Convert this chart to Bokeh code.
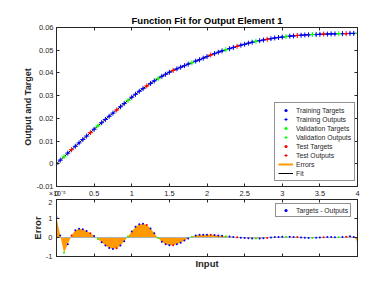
from bokeh.plotting import figure
from bokeh.layouts import column
from bokeh.models import (FixedTicker, LinearAxis, Range1d, Legend, LegendItem,
                          CustomJSTickFormatter)
from bokeh.embed import file_html
from bokeh.resources import INLINE

# ---------------- data ----------------
inputs = [0.00, 0.05, 0.10, 0.15, 0.20, 0.25, 0.30, 0.35, 0.40, 0.45,
          0.50, 0.55, 0.60, 0.65, 0.70, 0.75, 0.80, 0.85, 0.90, 0.95,
          1.00, 1.05, 1.10, 1.15, 1.20, 1.25, 1.30, 1.35, 1.40, 1.45,
          1.50, 1.55, 1.60, 1.65, 1.70, 1.75, 1.80, 1.85, 1.90, 1.95,
          2.00, 2.05, 2.10, 2.15, 2.20, 2.25, 2.30, 2.35, 2.40, 2.45,
          2.50, 2.55, 2.60, 2.65, 2.70, 2.75, 2.80, 2.85, 2.90, 2.95,
          3.00, 3.05, 3.10, 3.15, 3.20, 3.25, 3.30, 3.35, 3.40, 3.45,
          3.50, 3.55, 3.60, 3.65, 3.70, 3.75, 3.80, 3.85, 3.90, 3.95,
          4.00]

targets = [0.0000, 0.0016, 0.0031, 0.0047, 0.0062, 0.0077, 0.0092, 0.0107, 0.0122, 0.0137,
           0.0152, 0.0167, 0.0181, 0.0195, 0.0209, 0.0223, 0.0237, 0.0251, 0.0265, 0.0279,
           0.0293, 0.0306, 0.0319, 0.0331, 0.0343, 0.0354, 0.0365, 0.0375, 0.0385, 0.0394,
           0.0403, 0.0411, 0.0418, 0.0425, 0.0432, 0.0439, 0.0445, 0.0452, 0.0458, 0.0465,
           0.0472, 0.0479, 0.0485, 0.0491, 0.0497, 0.0502, 0.0507, 0.0512, 0.0517, 0.0522,
           0.0526, 0.0531, 0.0535, 0.0539, 0.0542, 0.0545, 0.0548, 0.0551, 0.0554, 0.0556,
           0.0558, 0.0560, 0.0562, 0.0563, 0.0565, 0.0566, 0.0567, 0.0568, 0.0569, 0.0569,
           0.0570, 0.0571, 0.0571, 0.0572, 0.0572, 0.0573, 0.0573, 0.0573, 0.0574, 0.0574,
           0.0574]

# errors (targets - outputs) in units of 1e-5
errors = [1.05, 0.10, -0.80, -0.35, 0.10, 0.38, 0.46, 0.43, 0.34, 0.22,
          0.08, -0.08, -0.25, -0.42, -0.55, -0.60, -0.56, -0.42, -0.20, 0.05,
          0.32, 0.56, 0.70, 0.73, 0.66, 0.47, 0.22, -0.03, -0.22, -0.35,
          -0.41, -0.41, -0.36, -0.27, -0.16, -0.05, 0.04, 0.10, 0.14, 0.15,
          0.15, 0.14, 0.13, 0.11, 0.09, 0.07, 0.05, 0.03, 0.01, -0.01,
          -0.03, -0.04, -0.05, -0.05, -0.05, -0.04, -0.02, 0.00, 0.02, 0.03,
          0.04, 0.04, 0.04, 0.03, 0.02, 0.00, -0.01, -0.02, -0.02, -0.01,
          0.00, 0.01, 0.02, 0.02, 0.01, 0.01, 0.02, 0.04, 0.06, 0.03,
          -0.18]
error_scale = 1e-5
error_exponent_text = "\u00a0\u00d710\u207b\u2075"

# T = training, V = validation, S = test
split = list("TTVTSTTTTS" "TVTTTTSTTV" "TTTTSTTVTT" "TSTTTTVTTT"
             "TSTTTVTTST" "TTTVTTSTTT" "TVTTSTTTVT" "TSTTTVTSTT" "V")

x_ticks = [0, 0.5, 1, 1.5, 2, 2.5, 3, 3.5, 4]
x_tick_labels = ["0", "0.5", "1", "1.5", "2", "2.5", "3", "3.5", "4"]
y_ticks_top = [-0.01, 0, 0.01, 0.02, 0.03, 0.04, 0.05, 0.06]
y_tick_labels_top = ["-0.01", "0", "0.01", "0.02", "0.03", "0.04", "0.05", "0.06"]
y_ticks_err = [-1, 0, 1, 2]
y_tick_labels_err = ["-1", "0", "1", "2"]

title_text = "Function Fit for Output Element 1"
groups = [("T", "Training", "#0000ff"), ("V", "Validation", "#00ff00"), ("S", "Test", "#ff0000")]

# ---------------- styling ----------------
FONT = "Liberation Sans"
AX = "#262626"
ORANGE = "#ff9900"
TICK_FS = "7.5px"

outputs = [t - e * error_scale for t, e in zip(targets, errors)]

blank = CustomJSTickFormatter(code="return ''")


def style_axis(ax):
    ax.major_tick_in = 3
    ax.major_tick_out = 0
    ax.minor_tick_line_color = None
    ax.axis_line_color = AX
    ax.major_tick_line_color = AX
    ax.major_label_text_color = AX
    ax.major_label_text_font = FONT
    ax.major_label_text_font_size = TICK_FS
    ax.axis_label_text_font = FONT
    ax.axis_label_text_font_style = "bold"
    ax.axis_label_text_font_size = "9.5px"
    ax.axis_label_text_color = AX


def add_box_axes(p, xt, yt):
    top = LinearAxis(ticker=FixedTicker(ticks=xt), formatter=blank)
    right = LinearAxis(ticker=FixedTicker(ticks=yt), formatter=blank)
    for a in (top, right):
        style_axis(a)
        a.major_label_standoff = 0
        a.major_label_text_font_size = "1px"
    p.add_layout(top, "above")
    p.add_layout(right, "right")


# ---------------- top figure ----------------
p = figure(width=372, height=199, output_backend="svg", toolbar_location=None,
           x_range=Range1d(0, 4), y_range=Range1d(-0.01, 0.06),
           min_border_left=56, min_border_right=15, min_border_top=27, min_border_bottom=13)
p.background_fill_color = "white"
p.border_fill_color = "white"
p.outline_line_color = AX
p.grid.visible = False
p.title.text = title_text
p.title.align = "center"
p.title.text_font = FONT
p.title.text_font_size = "9.5px"
p.title.text_font_style = "bold"
p.title.text_color = "#000000"
p.title.standoff = 3

style_axis(p.xaxis[0])
style_axis(p.yaxis[0])
p.xaxis[0].ticker = FixedTicker(ticks=x_ticks)
p.xaxis[0].major_label_overrides = dict(zip(x_ticks, x_tick_labels))
p.xaxis[0].major_label_standoff = 4
# exponent of the error axis, sitting next to the "0" tick label (as in MATLAB)
p.xaxis[0].axis_label = error_exponent_text
p.xaxis[0].axis_label_align = "start"
p.xaxis[0].axis_label_text_font_style = "normal"
p.xaxis[0].axis_label_text_font_size = "7px"
p.xaxis[0].axis_label_standoff = -9
p.yaxis[0].ticker = FixedTicker(ticks=y_ticks_top)
p.yaxis[0].major_label_overrides = dict(zip(y_ticks_top, y_tick_labels_top))
p.yaxis[0].major_label_standoff = 3
p.yaxis[0].axis_label = "Output and Target"
p.yaxis[0].axis_label_text_font_size = "9px"
p.yaxis[0].axis_label_standoff = 0
add_box_axes(p, x_ticks, y_ticks_top)

fit_r = p.line(inputs, outputs, line_color="#000000", line_width=1)
err_r = p.segment(x0=inputs, y0=targets, x1=inputs, y1=outputs, line_color=ORANGE, line_width=2)

items = []
dot_rs = {}
cross_rs = {}
for key, name, col in groups:
    xs = [x for x, s in zip(inputs, split) if s == key]
    ts = [t for t, s in zip(targets, split) if s == key]
    os_ = [o for o, s in zip(outputs, split) if s == key]
    dot_rs[key] = p.scatter(xs, ts, marker="circle", size=2, fill_color=col, line_color=None)
    cross_rs[key] = p.scatter(xs, os_, marker="cross", size=5, line_color=col, line_width=1)
for key, name, col in groups:
    items.append(LegendItem(label=name + " Targets", renderers=[dot_rs[key]]))
    items.append(LegendItem(label=name + " Outputs", renderers=[cross_rs[key]]))
items.append(LegendItem(label="Errors", renderers=[err_r]))
items.append(LegendItem(label="Fit", renderers=[fit_r]))

leg = Legend(items=items, location=(218, 5), orientation="vertical")
leg.label_text_font = FONT
leg.label_text_font_size = "6.8px"
leg.label_text_color = AX
leg.glyph_width = 15
leg.glyph_height = 8
leg.label_height = 8
leg.label_standoff = 3
leg.spacing = 1
leg.padding = 3
leg.margin = 0
leg.border_line_color = AX
leg.border_line_width = 1
leg.background_fill_color = "white"
leg.background_fill_alpha = 1
p.add_layout(leg, "center")

# ---------------- bottom figure ----------------
q = figure(width=372, height=77, output_backend="svg", toolbar_location=None,
           x_range=Range1d(0, 4), y_range=Range1d(-1, 2),
           min_border_left=56, min_border_right=15, min_border_top=0, min_border_bottom=20)
q.background_fill_color = "white"
q.border_fill_color = "white"
q.outline_line_color = AX
q.grid.visible = False
style_axis(q.xaxis[0])
style_axis(q.yaxis[0])
q.xaxis[0].ticker = FixedTicker(ticks=x_ticks)
q.xaxis[0].formatter = blank
q.xaxis[0].major_label_standoff = 0
q.xaxis[0].major_label_text_font_size = "1px"
q.xaxis[0].axis_label = "Input"
q.xaxis[0].axis_label_standoff = 1
q.yaxis[0].ticker = FixedTicker(ticks=y_ticks_err)
q.yaxis[0].major_label_overrides = dict(zip(y_ticks_err, y_tick_labels_err))
q.yaxis[0].major_label_standoff = 4
q.yaxis[0].axis_label = "Error"
q.yaxis[0].axis_label_standoff = 0
add_box_axes(q, x_ticks, y_ticks_err)

q.varea(x=inputs, y1=[0] * len(inputs), y2=errors, fill_color=ORANGE)
q.line(x=[inputs[0], inputs[-1]], y=[0, 0], line_color="#b0b0b0", line_width=1)
err_dots = {}
for key, name, col in groups:
    xs = [x for x, s in zip(inputs, split) if s == key]
    es = [e for e, s in zip(errors, split) if s == key]
    err_dots[key] = q.scatter(xs, es, marker="circle", size=2, fill_color=col, line_color=None)

leg2 = Legend(items=[LegendItem(label="Targets - Outputs", renderers=[err_dots["T"]])],
              location=(219, 39))
leg2.label_text_font = FONT
leg2.label_text_font_size = "6.8px"
leg2.label_text_color = AX
leg2.glyph_width = 15
leg2.glyph_height = 8
leg2.label_height = 8
leg2.label_standoff = 3
leg2.padding = 2
leg2.margin = 0
leg2.border_line_color = AX
leg2.background_fill_color = "white"
q.add_layout(leg2, "center")

layout = column(p, q, spacing=0)
open("out.html", "w").write(file_html(layout, INLINE))
